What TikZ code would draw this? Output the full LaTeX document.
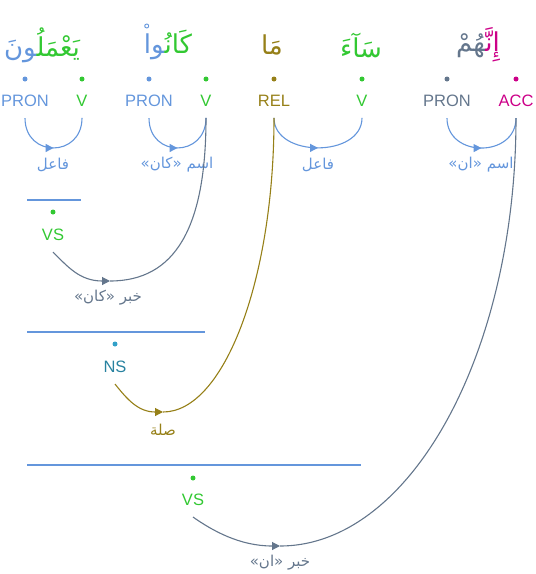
\documentclass[tikz,border=0pt]{standalone}
\usepackage{fontspec}
\setmainfont{Liberation Sans}
\newfontfamily\arabicfont[Script=Arabic]{DejaVu Sans}
\TeXXeTstate=1
\usetikzlibrary{arrows.meta,decorations.markings}
\definecolor{cblue}{RGB}{100,150,220}
\definecolor{cgreen}{RGB}{50,200,50}
\definecolor{colive}{RGB}{150,128,24}
\definecolor{cmag}{RGB}{204,0,136}
\definecolor{cgrey}{RGB}{100,118,140}
\definecolor{cteal}{RGB}{40,130,160}
\definecolor{ctealdot}{RGB}{50,160,200}
\newcommand{\zwj}{^^^^200d}
\tikzset{
  word/.style={font=\arabicfont\fontsize{26}{30}\selectfont, inner sep=0},
  tag/.style={font=\fontsize{16.5}{18}\selectfont, inner xsep=0, inner ysep=11pt},
  dotmark/.style={circle, fill, inner sep=0, minimum size=5pt},
  rellabel/.style={font=\arabicfont\fontsize{15}{17}\selectfont, inner sep=1pt},
  arcmid/.style={line width=1.1pt, postaction={decorate},
    decoration={markings, mark=at position 0.5 with {\arrow{Triangle[length=8pt,width=8pt]}}}},
  halfarc/.style={line width=1.1pt},
  tiparc/.style={line width=1.1pt, -{Triangle[length=8pt,width=8pt]}},
  rulebar/.style={cblue, line width=1.2pt},
  roundzero/.style={circle, draw, line width=0.9pt, inner sep=0, minimum size=4pt},
}
\begin{document}
\begin{tikzpicture}[x=1pt,y=-1pt]
\useasboundingbox (0,0) rectangle (536,574);
% words (segments laid out visually: left segment first)
\node[word] (w1) at (42,45) {{\color{cblue}\zwj ونَ}{\color{cgreen}يَعْمَلُ\zwj}};
\node[word] (w2) at (168,45) {{\color{cblue}\zwj وا}{\color{cgreen}كَانُ\zwj}};
\node[roundzero,cblue] (z2) at ([xshift=3pt,yshift=19pt]w2.west) {};
\node[word,colive] (w3) at (272,45) {مَا};
\node[word,cgreen] (w4) at (361,45) {سَآءَ};
\node[word] (w5) at (478,45) {{\color{cgrey}\zwj هُمْ}{\color{cmag}إِنَّ\zwj}};
% dots
\node[dotmark,cblue] (d1) at (25,79) {};
\node[dotmark,cgreen] (d2) at (82,79) {};
\node[dotmark,cblue] (d3) at (149,79) {};
\node[dotmark,cgreen] (d4) at (206,79) {};
\node[dotmark,colive] (d5) at (274,79) {};
\node[dotmark,cgreen] (d6) at (362,79) {};
\node[dotmark,cgrey] (d7) at (447,79) {};
\node[dotmark,cmag] (d8) at (516,79) {};
% tags
\node[tag,cblue] (p1) at (25,101) {PRON};
\node[tag,cgreen] (v1) at (82,101) {V};
\node[tag,cblue] (p2) at (149,101) {PRON};
\node[tag,cgreen] (v2) at (206,101) {V};
\node[tag,colive] (r1) at (274,101) {REL};
\node[tag,cgreen] (v3) at (362,101) {V};
\node[tag,cgrey] (p3) at (447,101) {PRON};
\node[tag,cmag] (a1) at (516,101) {ACC};
% small arcs
\draw[arcmid,cblue] (p1.south) .. controls +(0,40) and +(0,40) .. (v1.south);
\draw[arcmid,cblue] (p2.south) .. controls +(0,40) and +(0,40) .. (v2.south);
\draw[arcmid,cblue] (r1.south) .. controls +(0,40) and +(0,40) .. (v3.south);
\draw[arcmid,cblue] (p3.south) .. controls +(0,40) and +(0,40) .. (a1.south);
\node[rellabel,cblue] (l1) at (53,165) {\beginR فاعل\endR};
\node[rellabel,cblue] (l2) at (177,165) {\beginR اسم «كان»\endR};
\node[rellabel,cblue] (l3) at (318,165) {\beginR فاعل\endR};
\node[rellabel,cblue] (l4) at (481,165) {\beginR اسم «ان»\endR};
% hidden phrase 1
\coordinate (h1a) at (27,200); \coordinate (h1b) at (81,200);
\draw[rulebar] (h1a) -- (h1b);
\node[dotmark,cgreen] (dv1) at (53,212) {};
\node[tag,cgreen] (vs1) at (53,235) {VS};
\coordinate (b1) at (110,281);
\draw[tiparc,cgrey] (vs1.south) .. controls +(15,15) and +(-30,0) .. (b1);
\draw[halfarc,cgrey] (b1) .. controls +(65,0) and +(0,110) .. (v2.south);
\node[rellabel,cgrey] (l5) at (108,298) {\beginR خبر «كان»\endR};
% hidden phrase 2
\coordinate (h2a) at (27,332); \coordinate (h2b) at (205,332);
\draw[rulebar] (h2a) -- (h2b);
\node[dotmark,ctealdot] (dn1) at (115,344) {};
\node[tag,cteal] (ns1) at (115,367) {NS};
\coordinate (b2) at (163,412);
\draw[tiparc,colive] (ns1.south) .. controls +(12,15) and +(-25,0) .. (b2);
\draw[halfarc,colive] (b2) .. controls +(61,0) and +(0,162) .. (r1.south);
\node[rellabel,colive] (l6) at (163,430) {\beginR صلة\endR};
% hidden phrase 3
\coordinate (h3a) at (27,465); \coordinate (h3b) at (361,465);
\draw[rulebar] (h3a) -- (h3b);
\node[dotmark,cgreen] (dv2) at (193,478) {};
\node[tag,cgreen] (vs2) at (193,500) {VS};
\coordinate (b3) at (280,546);
\draw[tiparc,cgrey] (vs2.south) .. controls +(20,14) and +(-40,0) .. (b3);
\draw[halfarc,cgrey] (b3) .. controls +(130,0) and +(0,236) .. (a1.south);
\node[rellabel,cgrey] (l7) at (280,563) {\beginR خبر «ان»\endR};
\end{tikzpicture}
\end{document}
